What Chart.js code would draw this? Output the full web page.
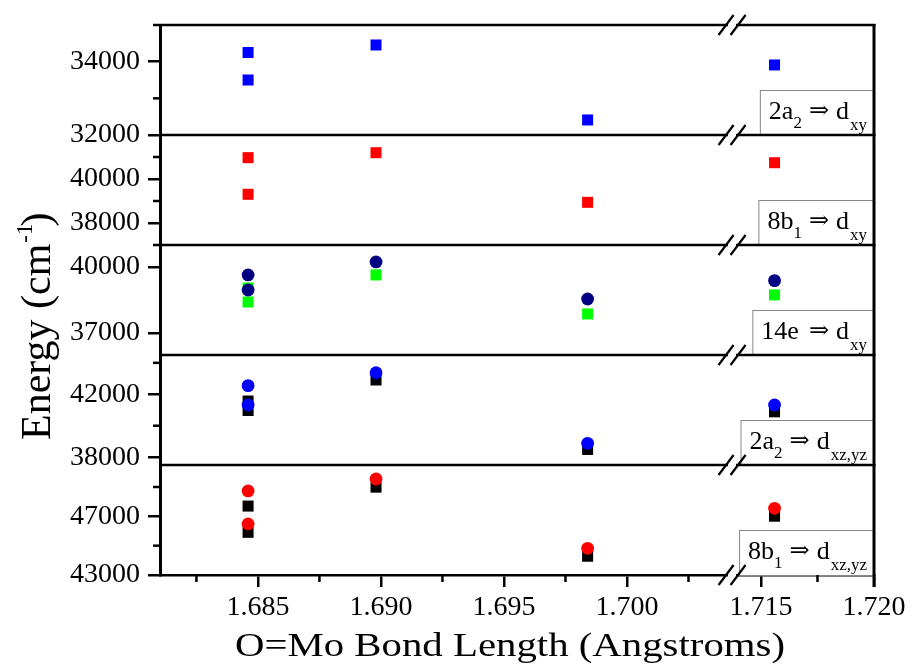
<!DOCTYPE html>
<html>
<head>
<meta charset="utf-8">
<script src="https://cdn.jsdelivr.net/npm/chart.js@4.4.1/dist/chart.umd.min.js"></script>
<style>
  html, body { margin: 0; padding: 0; background: #fff; }
  #wrap { width: 912px; height: 666px; }
</style>
</head>
<body>
<div id="wrap"><canvas id="energyChart" width="912" height="666"></canvas></div>
<script>
// O=Mo bond length of each point (the first structure has two states)
const bondLength = [1.6846, 1.6846, 1.6898, 1.6984, 1.7156];

// transition energies, cm-1, one array per marker series
const e2a2_dxy     = [34250, 33500, 34455, 32410, 33910];  // blue squares
const e8b1_dxy     = [40970, 39305, 41195, 38940, 40740];  // red squares
const e14e_dxy_c   = [39640, 38955, 40230, 38545, 39380];  // navy circles
const e14e_dxy_s   = [39045, 38410, 39640, 37865, 38730];  // green squares
const e2a2_dxz_c   = [42550, 41320, 43370, 38880, 41320];  // blue circles
const e2a2_dxz_s   = [41570, 40970, 42910, 38490, 40885];  // black squares
const e8b1_dxz_c   = [48730, 46480, 49545, 44820, 47545];  // red circles
const e8b1_dxz_s   = [47700, 45910, 48990, 44280, 47010];  // black squares

// y ranges and ticks of the five stacked panels (top to bottom)
const panelMin   = [32000, 37000, 36000, 37500, 43000];
const panelMax   = [35000, 42000, 41000, 44500, 50500];
const majorTicks = [[32000, 34000], [38000, 40000], [37000, 40000], [38000, 42000], [43000, 47000]];
const minorTicks = [[33000, 35000], [37000, 39000, 41000], [], [40000, 44000], [45000, 49000]];
const panelLabels = [['2a', '2', 'xy'], ['8b', '1', 'xy'], ['14e', '', 'xy'], ['2a', '2', 'xz,yz'], ['8b', '1', 'xz,yz']];

// broken x axis
const xLeftRange  = [1.68102, 1.70427];
const xRightRange = [1.71372, 1.72];
const xMajorLeft  = [1.685, 1.690, 1.695, 1.700];
const xMajorRight = [1.715, 1.720];
const xMinorLeft  = [1.6825, 1.6875, 1.6925, 1.6975, 1.7025];
const xMinorRight = [1.7175];

const xTitle = 'O=Mo Bond Length (Angstroms)';

const SERIF = '"Liberation Serif", "DejaVu Serif", serif';

// circles first so that they are drawn on top of the squares
const series = [
  { panel: 0, vals: e2a2_dxy,   color: '#0000ff', shape: 'rect' },
  { panel: 1, vals: e8b1_dxy,   color: '#ff0000', shape: 'rect' },
  { panel: 2, vals: e14e_dxy_c, color: '#000080', shape: 'circle' },
  { panel: 2, vals: e14e_dxy_s, color: '#00ff00', shape: 'rect' },
  { panel: 3, vals: e2a2_dxz_c, color: '#0000ff', shape: 'circle' },
  { panel: 3, vals: e2a2_dxz_s, color: '#000000', shape: 'rect' },
  { panel: 4, vals: e8b1_dxz_c, color: '#ff0000', shape: 'circle' },
  { panel: 4, vals: e8b1_dxz_s, color: '#000000', shape: 'rect' }
];

const datasets = [];
series.forEach(s => {
  const left = [], right = [];
  bondLength.forEach((x, i) => (x < xLeftRange[1] ? left : right).push({ x: x, y: s.vals[i] }));
  [[left, 'xL'], [right, 'xR']].forEach(([pts, ax]) => {
    datasets.push({
      data: pts,
      xAxisID: ax,
      yAxisID: 'y' + s.panel,
      pointStyle: s.shape,
      pointRadius: s.shape === 'rect' ? 7.8 : 6.4,
      backgroundColor: s.color,
      borderColor: s.color,
      borderWidth: 0,
      showLine: false
    });
  });
});

const tickFont = { family: SERIF, size: 28 };

function xAxis(range, major, weight) {
  return {
    type: 'linear', position: 'bottom', stack: 'bl', stackWeight: (range[1] - range[0]) * (weight === 1 ? 24600 : 22600), weight: weight,
    min: range[0], max: range[1],
    afterBuildTicks: s => { s.ticks = major.map(v => ({ value: v })); },
    afterFit: s => { s.height = 91; },
    grid: { drawOnChartArea: false, drawTicks: true, tickLength: 12, lineWidth: 2.5, color: '#000' },
    border: { display: true, color: '#000', width: 2.5 },
    ticks: { font: tickFont, color: '#000', padding: 4, autoSkip: false, maxRotation: 0, callback: v => v.toFixed(3) }
  };
}

const scales = { xL: xAxis(xLeftRange, xMajorLeft, 1), xR: xAxis(xRightRange, xMajorRight, 2) };
for (let i = 0; i < 5; i++) {
  scales['y' + i] = {
    type: 'linear', position: 'left', stack: 'energy', stackWeight: 1, weight: 5 - i,
    min: panelMin[i], max: panelMax[i],
    afterBuildTicks: s => { s.ticks = majorTicks[i].map(v => ({ value: v })); },
    afterFit: s => { s.width = 135; },
    grid: { drawOnChartArea: false, drawTicks: true, tickLength: 12, lineWidth: 2.5, color: '#000' },
    border: { display: true, color: '#000', width: 3 },
    ticks: { font: tickFont, color: '#000', padding: 8, callback: v => String(v) }
  };
}

function drawLabel(ctx, right, bottom, lab) {
  const [m1, s1, s2] = lab;
  const big = '26px ' + SERIF, small = '17px ' + SERIF;
  const arrowFont = '24px "DejaVu Serif", serif';
  ctx.font = big;
  const w1 = ctx.measureText(m1).width;
  const wd = ctx.measureText('d').width;
  ctx.font = arrowFont;
  const wArr = ctx.measureText('\u21D2').width;
  ctx.font = small;
  const ws1 = s1 ? ctx.measureText(s1).width : 0;
  const ws2 = ctx.measureText(s2).width;
  const gap1 = s1 ? 7 : 10;
  const total = 9 + w1 + ws1 + gap1 + wArr + 7 + wd + 1 + ws2 + 7;
  const h = 45, left = right - total, top = bottom - h;
  ctx.fillStyle = '#fff';
  ctx.fillRect(left, top, total, h);
  ctx.strokeStyle = '#888';
  ctx.lineWidth = 1;
  ctx.strokeRect(left + 0.5, top + 0.5, total, h);
  ctx.fillStyle = '#000';
  ctx.textAlign = 'left';
  ctx.textBaseline = 'alphabetic';
  const base = bottom - 16;
  let x = left + 9;
  ctx.font = big; ctx.fillText(m1, x, base); x += w1;
  if (s1) { ctx.font = small; ctx.fillText(s1, x, base + 9); x += ws1; }
  x += gap1;
  ctx.font = arrowFont; ctx.fillText('\u21D2', x, base - 1); x += wArr + 7;
  ctx.font = big; ctx.fillText('d', x, base); x += wd + 1;
  ctx.font = small; ctx.fillText(s2, x, base + 11);
}

const framePlugin = {
  id: 'frame',
  afterDraw(chart) {
    const ctx = chart.ctx, ca = chart.chartArea;
    const xL = chart.scales.xL, xR = chart.scales.xR;
    ctx.save();

    // panel labels
    for (let i = 0; i < 5; i++) drawLabel(ctx, ca.right, chart.scales['y' + i].bottom, panelLabels[i]);

    ctx.strokeStyle = '#000';
    ctx.lineCap = 'butt';
    // panel separators and top edge
    ctx.lineWidth = 2.5;
    const lineYs = [];
    for (let i = 0; i < 5; i++) lineYs.push(chart.scales['y' + i].top);
    lineYs.forEach(y => { ctx.beginPath(); ctx.moveTo(ca.left, y); ctx.lineTo(ca.right + 1.5, y); ctx.stroke(); });
    // right edge
    ctx.lineWidth = 3;
    ctx.beginPath(); ctx.moveTo(ca.right, ca.top - 1); ctx.lineTo(ca.right, ca.bottom + 12); ctx.stroke();

    // minor ticks
    ctx.lineWidth = 2.5;
    for (let i = 0; i < 5; i++) {
      const sc = chart.scales['y' + i];
      minorTicks[i].forEach(v => {
        const y = sc.getPixelForValue(v);
        ctx.beginPath(); ctx.moveTo(ca.left - 7, y); ctx.lineTo(ca.left, y); ctx.stroke();
      });
    }
    [[xL, xMinorLeft], [xR, xMinorRight]].forEach(([sc, arr]) => arr.forEach(v => {
      const x = sc.getPixelForValue(v);
      ctx.beginPath(); ctx.moveTo(x, ca.bottom); ctx.lineTo(x, ca.bottom + 7); ctx.stroke();
    }));

    // axis break marks
    const bx = xL.right;
    lineYs.concat([ca.bottom]).forEach(y => {
      ctx.fillStyle = '#fff';
      ctx.fillRect(bx - 4, y - 3, 8, 6);
      ctx.lineWidth = 2.2;
      [-6, 6].forEach(dx => {
        ctx.beginPath(); ctx.moveTo(bx + dx - 7.5, y + 10); ctx.lineTo(bx + dx + 7.5, y - 10); ctx.stroke();
      });
    });

    // axis titles
    ctx.fillStyle = '#000';
    ctx.textBaseline = 'alphabetic';
    ctx.save();
    ctx.translate(510, 656);
    ctx.scale(1.2, 1);
    ctx.font = '34px ' + SERIF;
    ctx.textAlign = 'center';
    ctx.fillText(xTitle, 0, 0);
    ctx.restore();

    ctx.save();
    ctx.translate(50, 440);
    ctx.rotate(-Math.PI / 2);
    ctx.textAlign = 'left';
    ctx.font = '42px ' + SERIF;
    ctx.fillText('Energy (cm', 0, 0);
    let w = ctx.measureText('Energy (cm').width + 1;
    ctx.font = '23px ' + SERIF;
    ctx.fillText('-1', w, -18);
    w += ctx.measureText('-1').width - 3;
    ctx.font = '42px ' + SERIF;
    ctx.fillText(')', w, 0);
    ctx.restore();

    ctx.restore();
  }
};

new Chart(document.getElementById('energyChart'), {
  type: 'scatter',
  data: { datasets: datasets },
  options: {
    responsive: false,
    animation: false,
    events: [],
    layout: { padding: { left: 25, right: 38, top: 25, bottom: 0 } },
    plugins: { legend: { display: false }, tooltip: { enabled: false } },
    scales: scales
  },
  plugins: [framePlugin]
});
</script>
</body>
</html>
